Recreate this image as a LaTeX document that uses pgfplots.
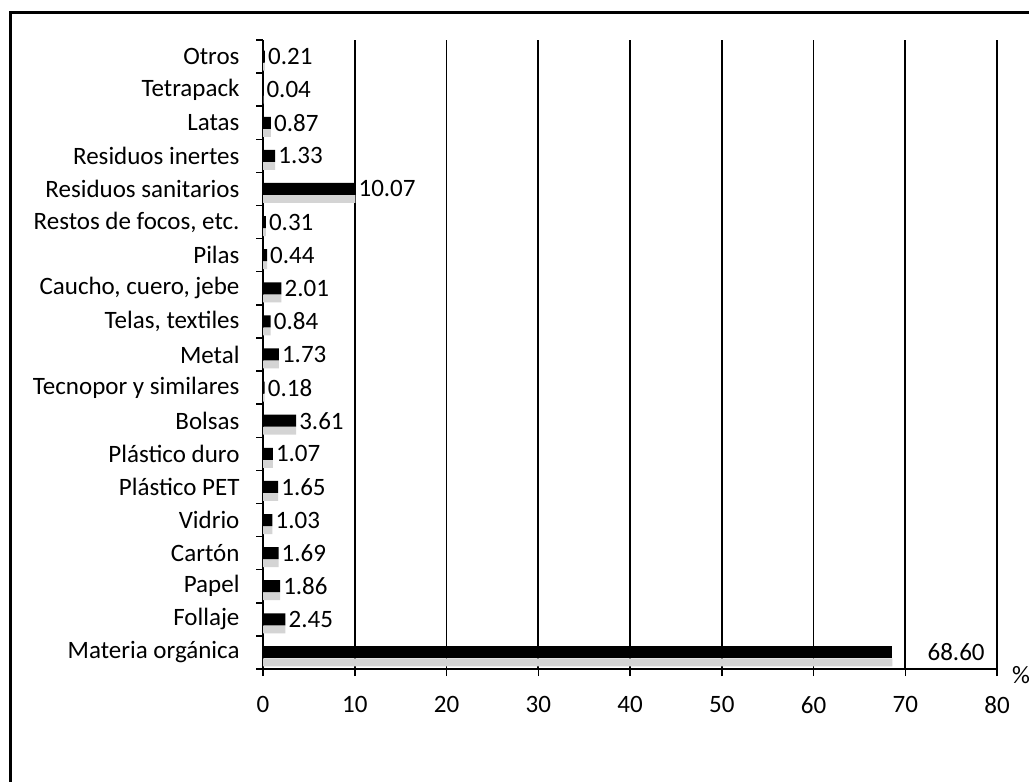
\documentclass[border=0pt]{standalone}
\usepackage{pgfplots}
\pgfplotsset{compat=1.18}
\usepackage{fontspec}
\setmainfont{Carlito}
\newcommand{\chartfont}{\fontsize{25bp}{29bp}\selectfont}
\begin{document}
\chartfont
\begin{tikzpicture}
\useasboundingbox (0,0) rectangle (1029bp,782bp);
\fill[white] (0,0) rectangle (1029bp,782bp);
% outer frame (left and top edges)
\draw[line width=3bp] (10bp,0) -- (10bp,769bp) -- (1029bp,769bp);
\begin{axis}[
  at={(263bp,113bp)}, anchor=south west,
  scale only axis, width=734bp, height=629bp,
  xmin=0, xmax=80, ymin=-0.5, ymax=18.5,
  enlargelimits=false,
  axis x line*=bottom, axis y line*=left,
  axis line style={line width=1.6bp, -},
  xtick={0,10,...,80},
  xmajorgrids, major grid style={black, line width=1.6bp},
  xtick align=outside, ytick align=outside,
  xtick pos=bottom, ytick pos=left,
  major tick length=7bp,
  xtick style={draw=black, solid, line width=1.5bp},
  ytick style={draw=black, solid, line width=1.5bp},
  % tick marks between categories, names centred on each category
  ytick={-0.5,0.5,...,18.5},
  yticklabels={},
  extra y ticks={0,...,18},
  extra y tick labels={Materia orgánica, Follaje, Papel, Cartón, Vidrio, Plástico PET,
    Plástico duro, Bolsas, Tecnopor y similares, Metal, {Telas, textiles},
    {Caucho, cuero, jebe}, Pilas, {Restos de focos, etc.}, Residuos sanitarios,
    Residuos inertes, Latas, Tetrapack, Otros},
  extra y tick style={major tick length=0bp,
    y tick label style={xshift=-15bp}},
  /pgf/number format/assume math mode=true,
  tick label style={font=\chartfont},
  x tick label style={yshift=-12bp},
  point meta=x,
]
% light under-shadow of each bar
\addplot[xbar, fill=black!17, draw=none, bar width=8bp, bar shift=-10bp]
  coordinates {(68.60,0) (2.45,1) (1.86,2) (1.69,3) (1.03,4) (1.65,5) (1.07,6)
    (3.61,7) (0.18,8) (1.73,9) (0.84,10) (2.01,11) (0.44,12) (0.31,13)
    (10.07,14) (1.33,15) (0.87,16) (0.04,17) (0.21,18)};
% main bars with value labels
\addplot[xbar, fill=black, draw=none, bar width=12bp, bar shift=0bp,
  nodes near coords={\pgfmathprintnumber[fixed,fixed zerofill,precision=2]{\pgfplotspointmeta}},
  nodes near coords align=horizontal,
  every node near coord/.append style={anchor=west, inner sep=1.5bp, black,
    xshift=1.5bp, font=\chartfont}]
  coordinates {(2.45,1) (1.86,2) (1.69,3) (1.03,4) (1.65,5) (1.07,6)
    (3.61,7) (0.18,8) (1.73,9) (0.84,10) (2.01,11) (0.44,12) (0.31,13)
    (10.07,14) (1.33,15) (0.87,16) (0.04,17) (0.21,18)};
\addplot[xbar, fill=black, draw=none, bar width=12bp, bar shift=0bp,
  nodes near coords={\pgfmathprintnumber[fixed,fixed zerofill,precision=2]{\pgfplotspointmeta}},
  nodes near coords align=horizontal,
  every node near coord/.append style={anchor=west, inner sep=1bp, black,
    xshift=34bp, font=\chartfont}]
  coordinates {(68.60,0)};
\end{axis}
\node[anchor=west, inner sep=0pt] at (1012bp,107bp) {\%};
\end{tikzpicture}
\end{document}
